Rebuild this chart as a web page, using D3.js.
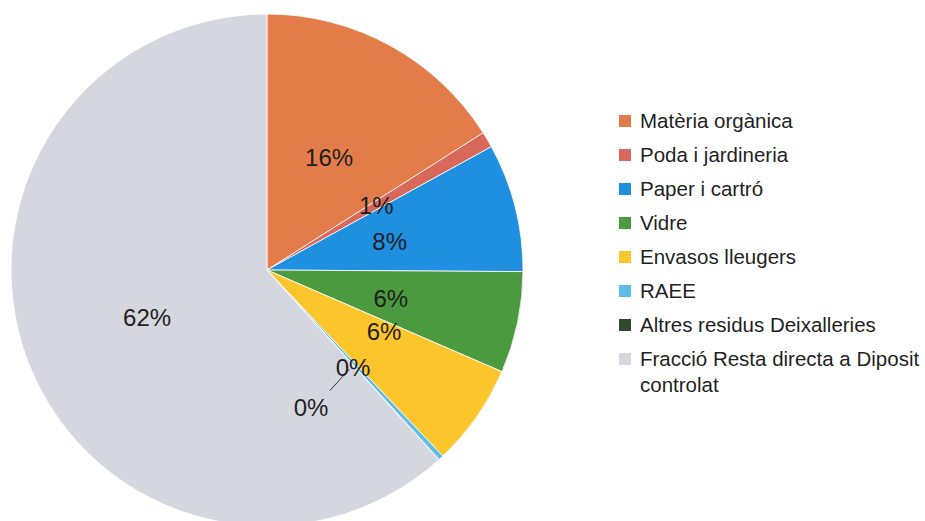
<!DOCTYPE html>
<html>
<head>
<meta charset="utf-8">
<script src="https://cdn.jsdelivr.net/npm/d3@7"></script>
<style>
  body { margin: 0; background: #fff; }
  svg { display: block; }
  text { font-family: "Liberation Sans", Arial, sans-serif; fill: #1f1f1f; }
</style>
</head>
<body>
<div id="chart"></div>
<script>
'use strict';

// categories and shares (%)
var categories = [
  'Matèria orgànica',
  'Poda i jardineria',
  'Paper i cartró',
  'Vidre',
  'Envasos lleugers',
  'RAEE',
  'Altres residus Deixalleries',
  'Fracció Resta directa a Diposit controlat'
];
var values = [16.0, 1.0, 8.1, 6.4, 6.45, 0.3, 0.05, 61.7];
var colors = ['#e47c4a', '#d8685a', '#1f8fe0', '#4b9a3f', '#fbc52b', '#5cbde8', '#2f4a2c', '#d4d7df'];

// label placement tweaks (degrees added to slice middle, radius)
var labelShift = [0, 0, 1, 1, -7.5, 1.4, 24.4, -0.6];
var labelRadius = [129, 127, 126, 127, 132, 130, 144, 129];

var width = 925, height = 521;
var cx = 267, cy = 270, radius = 256;

var svg = d3.select('#chart').append('svg')
  .attr('width', width)
  .attr('height', height);

var total = d3.sum(values);
var pie = d3.pie().sort(null).value(function (d) { return d; });
var arcs = pie(values);
var arc = d3.arc().innerRadius(0).outerRadius(radius);
var pct = function (v) { return Math.round(v / total * 100) + '%'; };

var polar = function (deg, r) {
  var a = deg * Math.PI / 180;
  return [cx + r * Math.sin(a), cy - r * Math.cos(a)];
};

var g = svg.append('g').attr('transform', 'translate(' + cx + ',' + cy + ')');

g.selectAll('path')
  .data(arcs)
  .enter()
  .append('path')
  .attr('d', arc)
  .attr('fill', function (d, i) { return colors[i]; })
  .attr('stroke', '#fff')
  .attr('stroke-width', 0.8);

// leader line for the tiny "Altres" slice
var altres = arcs[6];
var altresMid = (altres.startAngle + altres.endAngle) / 2 * 180 / Math.PI;
var p1 = polar(152.5, 136);
var p2 = polar(altresMid + 2.5, 129);
svg.append('line')
  .attr('x1', p1[0]).attr('y1', p1[1])
  .attr('x2', p2[0]).attr('y2', p2[1])
  .attr('stroke', '#333')
  .attr('stroke-width', 1);

svg.selectAll('text.lbl')
  .data(arcs)
  .enter()
  .append('text')
  .attr('class', 'lbl')
  .attr('x', function (d, i) {
    var mid = (d.startAngle + d.endAngle) / 2 * 180 / Math.PI;
    return polar(mid + labelShift[i], labelRadius[i])[0];
  })
  .attr('y', function (d, i) {
    var mid = (d.startAngle + d.endAngle) / 2 * 180 / Math.PI;
    return polar(mid + labelShift[i], labelRadius[i])[1];
  })
  .attr('text-anchor', 'middle')
  .attr('dy', '0.36em')
  .style('font-size', '24px')
  .text(function (d) { return pct(d.value); });

// legend
var legend = svg.append('g').attr('transform', 'translate(619,121)');
var rowH = 34;

var items = legend.selectAll('g')
  .data(categories)
  .enter()
  .append('g')
  .attr('transform', function (d, i) { return 'translate(0,' + (i * rowH) + ')'; });

items.append('rect')
  .attr('x', 0)
  .attr('y', -6)
  .attr('width', 12)
  .attr('height', 12)
  .attr('fill', function (d, i) { return colors[i]; });

items.append('text')
  .attr('x', 21)
  .style('font-size', '20.5px')
  .each(function (d) {
    var t = d3.select(this);
    var parts = d === categories[7] ? ['Fracció Resta directa a Diposit', 'controlat'] : [d];
    parts.forEach(function (p, k) {
      t.append('tspan')
        .attr('x', 21)
        .attr('dy', k === 0 ? '0.36em' : '26px')
        .text(p);
    });
  });
</script>
</body>
</html>
